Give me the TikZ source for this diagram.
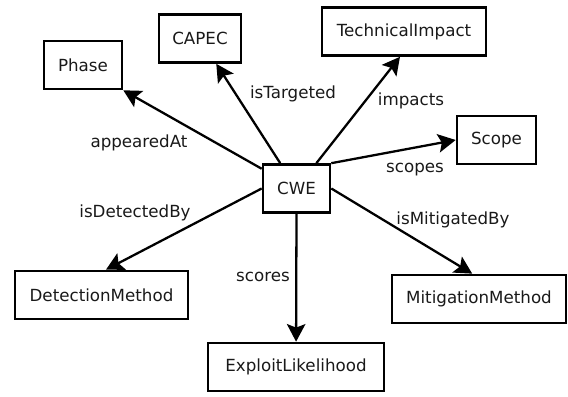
\documentclass[tikz,border=0pt]{standalone}
\usepackage{fontspec}
\setmainfont{DejaVu Sans}
\usepackage{tikz}
\usetikzlibrary{arrows.meta, positioning}

\begin{document}
\begin{tikzpicture}[every node/.style={font=\fontsize{9.5}{11}\selectfont, text=black!90},
        cls/.style={draw, line width=1.5pt, minimum height=0.96cm, inner sep=2pt},
        rel/.style={line width=1.3pt, -{Stealth[length=10pt, width=10.5pt, inset=2pt]}}]
        \useasboundingbox (0,0) rectangle (11.36,7.94);

        \node[cls, minimum width=1.34cm] (cwe) at (5.93,4.17) {CWE};
        \node[cls, minimum width=1.56cm] (phase) at (1.66,6.64) {Phase};
        \node[cls, minimum width=1.64cm] (capec) at (4.00,7.17) {CAPEC};
        \node[cls, minimum width=3.28cm] (impact) at (8.08,7.31) {TechnicalImpact};
        \node[cls, minimum width=1.58cm] (scope) at (9.93,5.14) {Scope};
        \node[cls, minimum width=3.46cm] (detection) at (2.03,2.04) {DetectionMethod};
        \node[cls, minimum width=3.52cm] (exploit) at (5.92,0.60) {ExploitLikelihood};
        \node[cls, minimum width=3.48cm] (mitigation) at (9.58,1.96) {MitigationMethod};

        \node (appearedat) at (2.78,5.08) {appearedAt};
        \node (istargeted) at (5.86,6.06) {isTargeted};
        \node (impacts) at (8.22,5.92) {impacts};
        \node (scopes) at (8.30,4.54) {scopes};
        \node (isdetectedby) at (2.70,3.68) {isDetectedBy};
        \node (scores) at (5.26,2.40) {scores};
        \node (ismitigatedby) at (9.06,3.54) {isMitigatedBy};

        \draw[rel] (cwe) -- (phase.south east);
        \draw[rel] (cwe) -- (capec);
        \draw[rel] (cwe) -- (impact.261);
        \draw[rel] (cwe.north east) -- (scope.west);
        \draw[rel] (cwe.west) -- (detection.80);
        \draw[rel] (cwe.south) -- (exploit);
        \draw[rel] (cwe.east) -- (mitigation.105);
    \end{tikzpicture}
\end{document}
